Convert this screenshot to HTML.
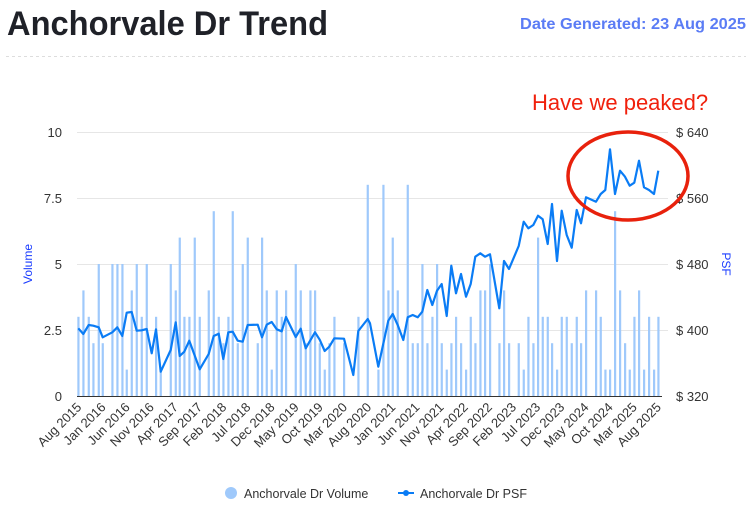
<!DOCTYPE html>
<html><head><meta charset="utf-8"><style>
html,body{margin:0;padding:0;background:#fff;}
svg{display:block;font-family:"Liberation Sans",sans-serif;}
</style></head><body>
<svg id="s" width="752" height="508" xmlns="http://www.w3.org/2000/svg">
<text x="7" y="35" font-size="34" font-weight="bold" fill="#1f2128" textLength="321" lengthAdjust="spacingAndGlyphs">Anchorvale Dr Trend</text>
<text x="520" y="29" font-size="16" font-weight="bold" fill="#5b7cf5" textLength="226" lengthAdjust="spacingAndGlyphs">Date Generated: 23 Aug 2025</text>
<line x1="6" y1="56.5" x2="746" y2="56.5" stroke="#ddd" stroke-dasharray="3,3"/>
<g stroke="#e6e6e6" stroke-width="1">
<line x1="77" y1="132.5" x2="668" y2="132.5"/><line x1="77" y1="198.5" x2="668" y2="198.5"/>
<line x1="77" y1="264.5" x2="668" y2="264.5"/><line x1="77" y1="330.5" x2="668" y2="330.5"/>
</g>
<g font-size="13" fill="#333" text-anchor="end">
<text x="62" y="137">10</text><text x="62" y="203">7.5</text><text x="62" y="269">5</text><text x="62" y="335">2.5</text><text x="62" y="401">0</text>
</g>
<g font-size="13" fill="#333">
<text x="676" y="137">$ 640</text><text x="676" y="203">$ 560</text><text x="676" y="269">$ 480</text><text x="676" y="335">$ 400</text><text x="676" y="401">$ 320</text>
</g>
<text transform="translate(32,264) rotate(-90)" font-size="12" fill="#1a3cff" text-anchor="middle">Volume</text>
<text transform="translate(722,264) rotate(90)" font-size="12" fill="#1a3cff" text-anchor="middle">PSF</text>
<g id="bars" fill="#9fc9fb"></g>
<line x1="77" y1="396.5" x2="662" y2="396.5" stroke="#333"/>
<polyline id="ln" fill="none" stroke="#0a7cf5" stroke-width="2.2" stroke-linejoin="round"/>
<g id="xl" font-size="13" fill="#333" text-anchor="end"></g>
<text x="532" y="110" font-size="22" fill="#f0200c">Have we peaked?</text>
<ellipse cx="628" cy="176" rx="60" ry="44" fill="none" stroke="#e8210c" stroke-width="3.5"/>
<circle cx="231" cy="493" r="6" fill="#9fc9fb"/>
<text x="244" y="498" font-size="12.5" fill="#333">Anchorvale Dr Volume</text>
<line x1="398" y1="493" x2="414" y2="493" stroke="#0a7cf5" stroke-width="2"/>
<circle cx="406" cy="493" r="3" fill="#0a7cf5"/>
<text x="420" y="498" font-size="12.5" fill="#333">Anchorvale Dr PSF</text>
</svg>
<script>
var NS="http://www.w3.org/2000/svg";
function bars(arr,ox){var g=document.getElementById("bars");arr.forEach(function(b){var x=b[0]/3+ox,v=b[1];var r=document.createElementNS(NS,"rect");r.setAttribute("x",x-1);r.setAttribute("width",2.2);r.setAttribute("y",396-v*26.4);r.setAttribute("height",v*26.4);g.appendChild(r);});}
bars([[55,3],[70,4],[86,3],[100,2],[116,5],[128,2],[157,5],[172,5],[187,5],[200,1],[215,4],[230,5],[245,3],[260,5],[288,3],[302,1],[332,5],[347,4],[359,6],[373,3],[388,3],[404,6],[419,3],[446,4],[461,7],[476,3],[490,2],[505,3],[518,7],[533,2],[548,5],[563,6],[593,2],[606,6],[620,4],[635,1],[650,4],[665,3],[678,4],[707,5],[722,4],[737,2],[751,4],[765,4],[779,2],[794,1],[808,2],[823,3],[852,2],[895,3],[923,8]],60);
bars([[25,1],[40,8],[55,4],[68,6],[83,4],[113,8],[128,2],[143,2],[157,5],[172,2],[187,3],[201,5],[215,2],[230,1],[244,2],[258,3],[273,2],[288,1],[302,3],[316,2],[331,4],[345,4],[360,5],[388,2],[402,4],[417,2],[446,2],[461,1],[475,3],[490,2],[504,6],[518,3],[533,3],[546,2],[561,1],[575,3],[590,3],[605,2],[620,3],[633,2],[648,4],[678,4],[692,3],[706,1],[720,1],[735,7],[750,4],[765,2],[779,1],[793,3],[807,4],[822,1],[837,3],[852,1],[865,3]],370);
var a=[[55,625],[70,642],[86,615],[100,617],[116,622],[128,652],[157,637],[172,622],[187,648],[200,578],[215,576],[230,632],[245,631],[260,627],[275,700],[288,628],[302,755],[332,690],[347,607],[359,708],[373,695],[388,662],[419,748],[446,702],[461,648],[476,641],[490,717],[505,637],[518,635],[533,662],[548,665],[563,615],[593,614],[606,652],[620,614],[635,606],[650,628],[665,634],[678,591],[707,651],[722,626],[737,685],[765,637],[779,659],[794,693],[808,680],[823,655],[852,656],[880,765],[895,633],[923,597]];
var b=[[0,610],[25,740],[55,602],[68,582],[83,615],[100,660],[113,592],[128,585],[143,592],[157,575],[172,510],[187,555],[201,512],[215,492],[230,588],[244,437],[258,520],[273,462],[288,530],[302,492],[316,410],[331,400],[345,410],[360,403],[388,565],[402,423],[417,447],[446,378],[461,305],[475,325],[490,315],[504,287],[518,298],[533,372],[546,252],[561,423],[575,272],[590,345],[605,383],[620,270],[633,310],[648,232],[678,245],[692,222],[706,210],[720,88],[735,222],[750,152],[765,170],[779,197],[793,188],[807,122],[822,202],[837,210],[852,222],[865,152]];
var pts=a.map(function(p){return (p[0]/3+60).toFixed(1)+","+(p[1]/3+120).toFixed(1)}).concat(b.map(function(p){return (p[0]/3+370).toFixed(1)+","+(p[1]/3+120).toFixed(1)}));
document.getElementById("ln").setAttribute("points",pts.join(" "));
var L=["Aug 2015","Jan 2016","Jun 2016","Nov 2016","Apr 2017","Sep 2017","Feb 2018","Jul 2018","Dec 2018","May 2019","Oct 2019","Mar 2020","Aug 2020","Jan 2021","Jun 2021","Nov 2021","Apr 2022","Sep 2022","Feb 2023","Jul 2023","Dec 2023","May 2024","Oct 2024","Mar 2025","Aug 2025"];
var g=document.getElementById("xl");
L.forEach(function(t,i){var x=78.3+4.83*i*5+4;var e=document.createElementNS(NS,"text");e.setAttribute("transform","translate("+x+",408) rotate(-45)");e.textContent=t;g.appendChild(e);});
</script>
</body></html>
